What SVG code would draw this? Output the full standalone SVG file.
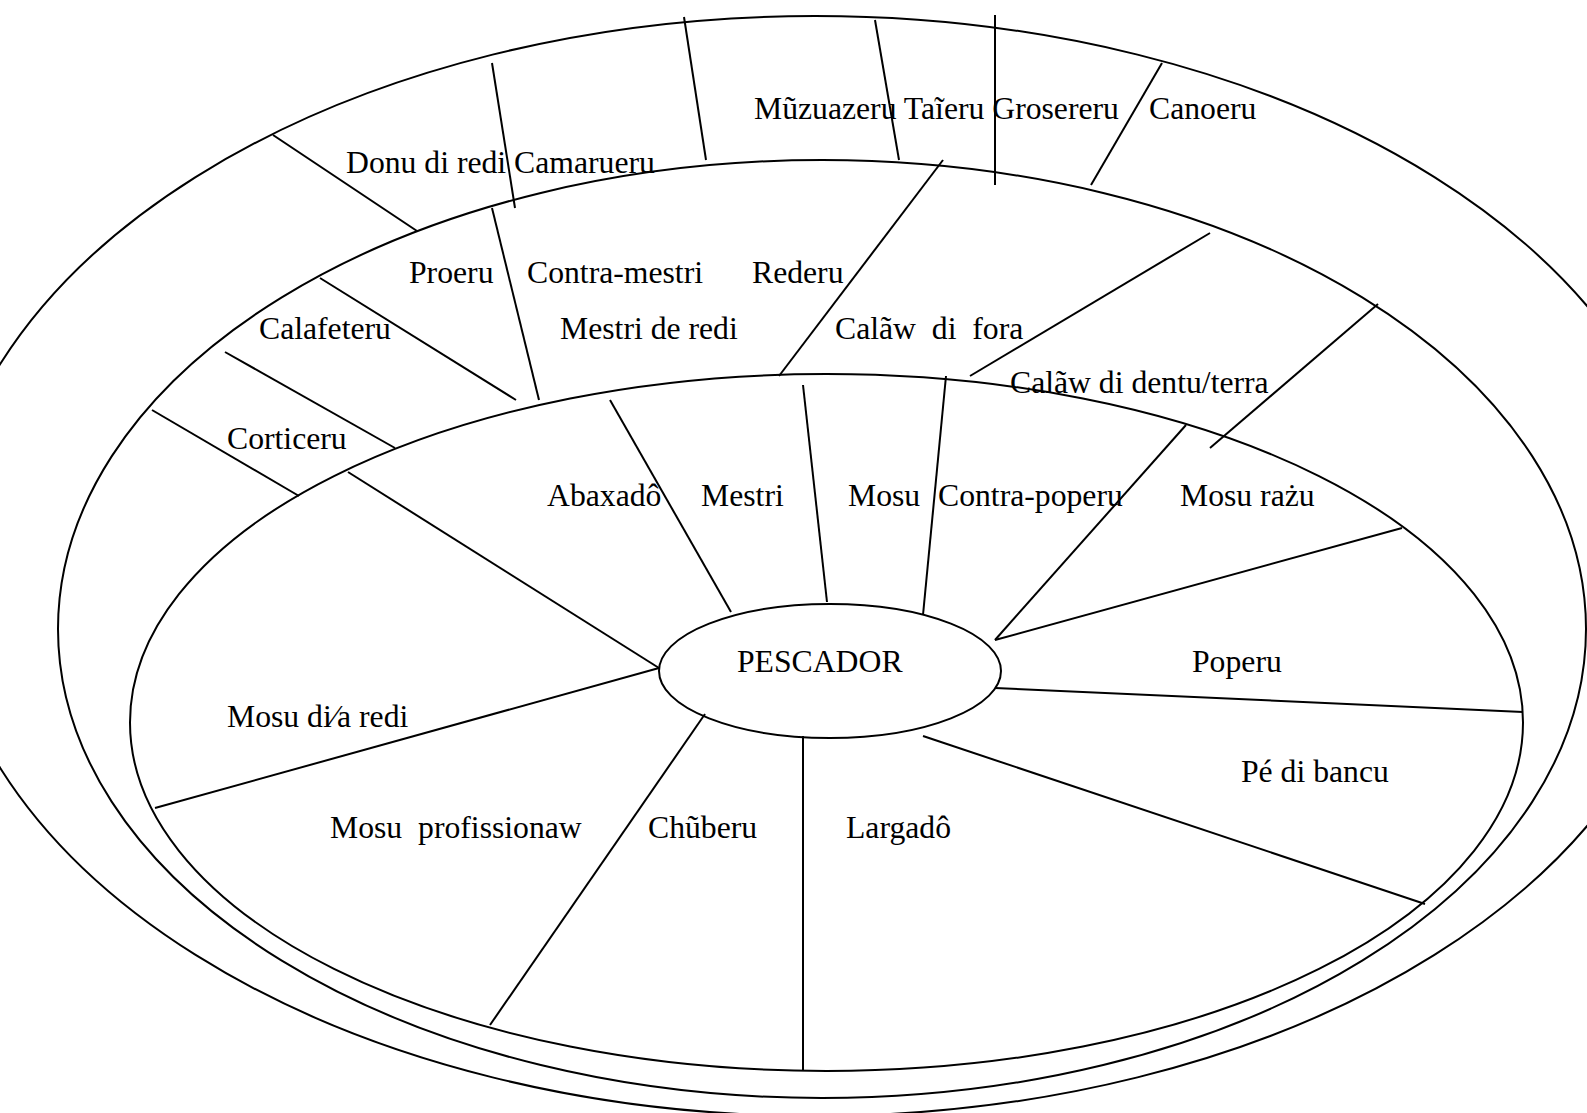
<svg xmlns="http://www.w3.org/2000/svg" width="1587" height="1113" viewBox="0 0 1587 1113">
  <style>
    .ring { fill: none; stroke: #000; stroke-width: 2; }
    .div { stroke: #000; stroke-width: 2; fill: none; stroke-linecap: butt; }
    .lbl { font-family: "Liberation Serif", "Times New Roman", serif; font-size: 31.7px; fill: #000; white-space: pre; }
  </style>
  <rect width="1587" height="1113" fill="#fff"/>

  <!-- concentric rings -->
  <g id="rings">
    <ellipse id="ring-outer" class="ring" cx="815" cy="566" rx="876" ry="550"/>
    <ellipse id="ring-middle" class="ring" cx="822" cy="629" rx="764" ry="469"/>
    <ellipse id="ring-inner" class="ring" cx="826.5" cy="722.5" rx="696.5" ry="348.5"/>
  </g>

  <!-- radial dividers -->
  <g id="connectors" class="div">
    <!-- outer ring -->
    <line x1="273" y1="135" x2="417" y2="231"/>
    <line x1="492" y1="63" x2="515" y2="208"/>
    <line x1="684" y1="17" x2="706" y2="160"/>
    <line x1="875" y1="20" x2="899" y2="160"/>
    <line x1="995" y1="15" x2="995" y2="185"/>
    <line x1="1162" y1="63" x2="1091" y2="185"/>
    <!-- middle ring -->
    <line x1="152" y1="410" x2="299" y2="496"/>
    <line x1="225" y1="352" x2="395" y2="448"/>
    <line x1="320" y1="278" x2="516" y2="400"/>
    <line x1="492" y1="208" x2="539" y2="400"/>
    <line x1="943" y1="160" x2="779" y2="376"/>
    <line x1="1210" y1="233" x2="970" y2="376"/>
    <line x1="1378" y1="304" x2="1210" y2="448"/>
    <!-- inner ring -->
    <line x1="348" y1="472" x2="659" y2="668"/>
    <line x1="610" y1="400" x2="731" y2="612"/>
    <line x1="803" y1="385" x2="827" y2="602"/>
    <line x1="946" y1="376" x2="923" y2="615"/>
    <line x1="1186" y1="425" x2="995" y2="640"/>
    <line x1="1402" y1="528" x2="995" y2="640"/>
    <line x1="995" y1="688" x2="1523" y2="712"/>
    <line x1="923" y1="736" x2="1425" y2="904"/>
    <line x1="803" y1="736" x2="803" y2="1071"/>
    <line x1="705" y1="714" x2="490" y2="1025"/>
    <line x1="659" y1="668" x2="155" y2="808"/>
  </g>

  <!-- centre node -->
  <g id="node-pescador">
    <ellipse class="ring" cx="830" cy="671" rx="171" ry="67" fill="#fff"/>
    <text class="lbl" x="737" y="672">PESCADOR</text>
  </g>

  <!-- outer ring labels -->
  <g id="node-muzuazeru-taieru-grosereru"><text class="lbl" x="754" y="119">Mũzuazeru Taĩeru Grosereru</text></g>
  <g id="node-canoeru"><text class="lbl" x="1149" y="119">Canoeru</text></g>
  <g id="node-donu-camarueru"><text class="lbl" x="346" y="173">Donu di redi Camarueru</text></g>

  <!-- middle ring labels -->
  <g id="node-proeru"><text class="lbl" x="409" y="283">Proeru</text></g>
  <g id="node-contra-mestri"><text class="lbl" x="527" y="283">Contra-mestri</text></g>
  <g id="node-rederu"><text class="lbl" x="752" y="283">Rederu</text></g>
  <g id="node-calafeteru"><text class="lbl" x="259" y="339">Calafeteru</text></g>
  <g id="node-mestri-de-redi"><text class="lbl" x="560" y="339">Mestri de redi</text></g>
  <g id="node-calaw-fora"><text class="lbl" x="835" y="339">Calãw  di  fora</text></g>
  <g id="node-calaw-dentu"><text class="lbl" x="1010" y="393">Calãw di dentu/terra</text></g>
  <g id="node-corticeru"><text class="lbl" x="227" y="449">Corticeru</text></g>

  <!-- inner ring labels -->
  <g id="node-abaxado"><text class="lbl" x="547" y="506">Abaxadô</text></g>
  <g id="node-mestri"><text class="lbl" x="701" y="506">Mestri</text></g>
  <g id="node-mosu"><text class="lbl" x="848" y="506">Mosu</text></g>
  <g id="node-contra-poperu"><text class="lbl" x="938" y="506">Contra-poperu</text></g>
  <g id="node-mosu-razu"><text class="lbl" x="1180" y="506">Mosu rażu</text></g>
  <g id="node-poperu"><text class="lbl" x="1192" y="672">Poperu</text></g>
  <g id="node-mosu-dia-redi"><text class="lbl" x="227" y="727">Mosu di⁄a redi</text></g>
  <g id="node-pe-di-bancu"><text class="lbl" x="1241" y="782">Pé di bancu</text></g>
  <g id="node-mosu-profissionaw"><text class="lbl" x="330" y="838">Mosu  profissionaw</text></g>
  <g id="node-chuberu"><text class="lbl" x="648" y="838">Chũberu</text></g>
  <g id="node-largado"><text class="lbl" x="846" y="838">Largadô</text></g>
</svg>
